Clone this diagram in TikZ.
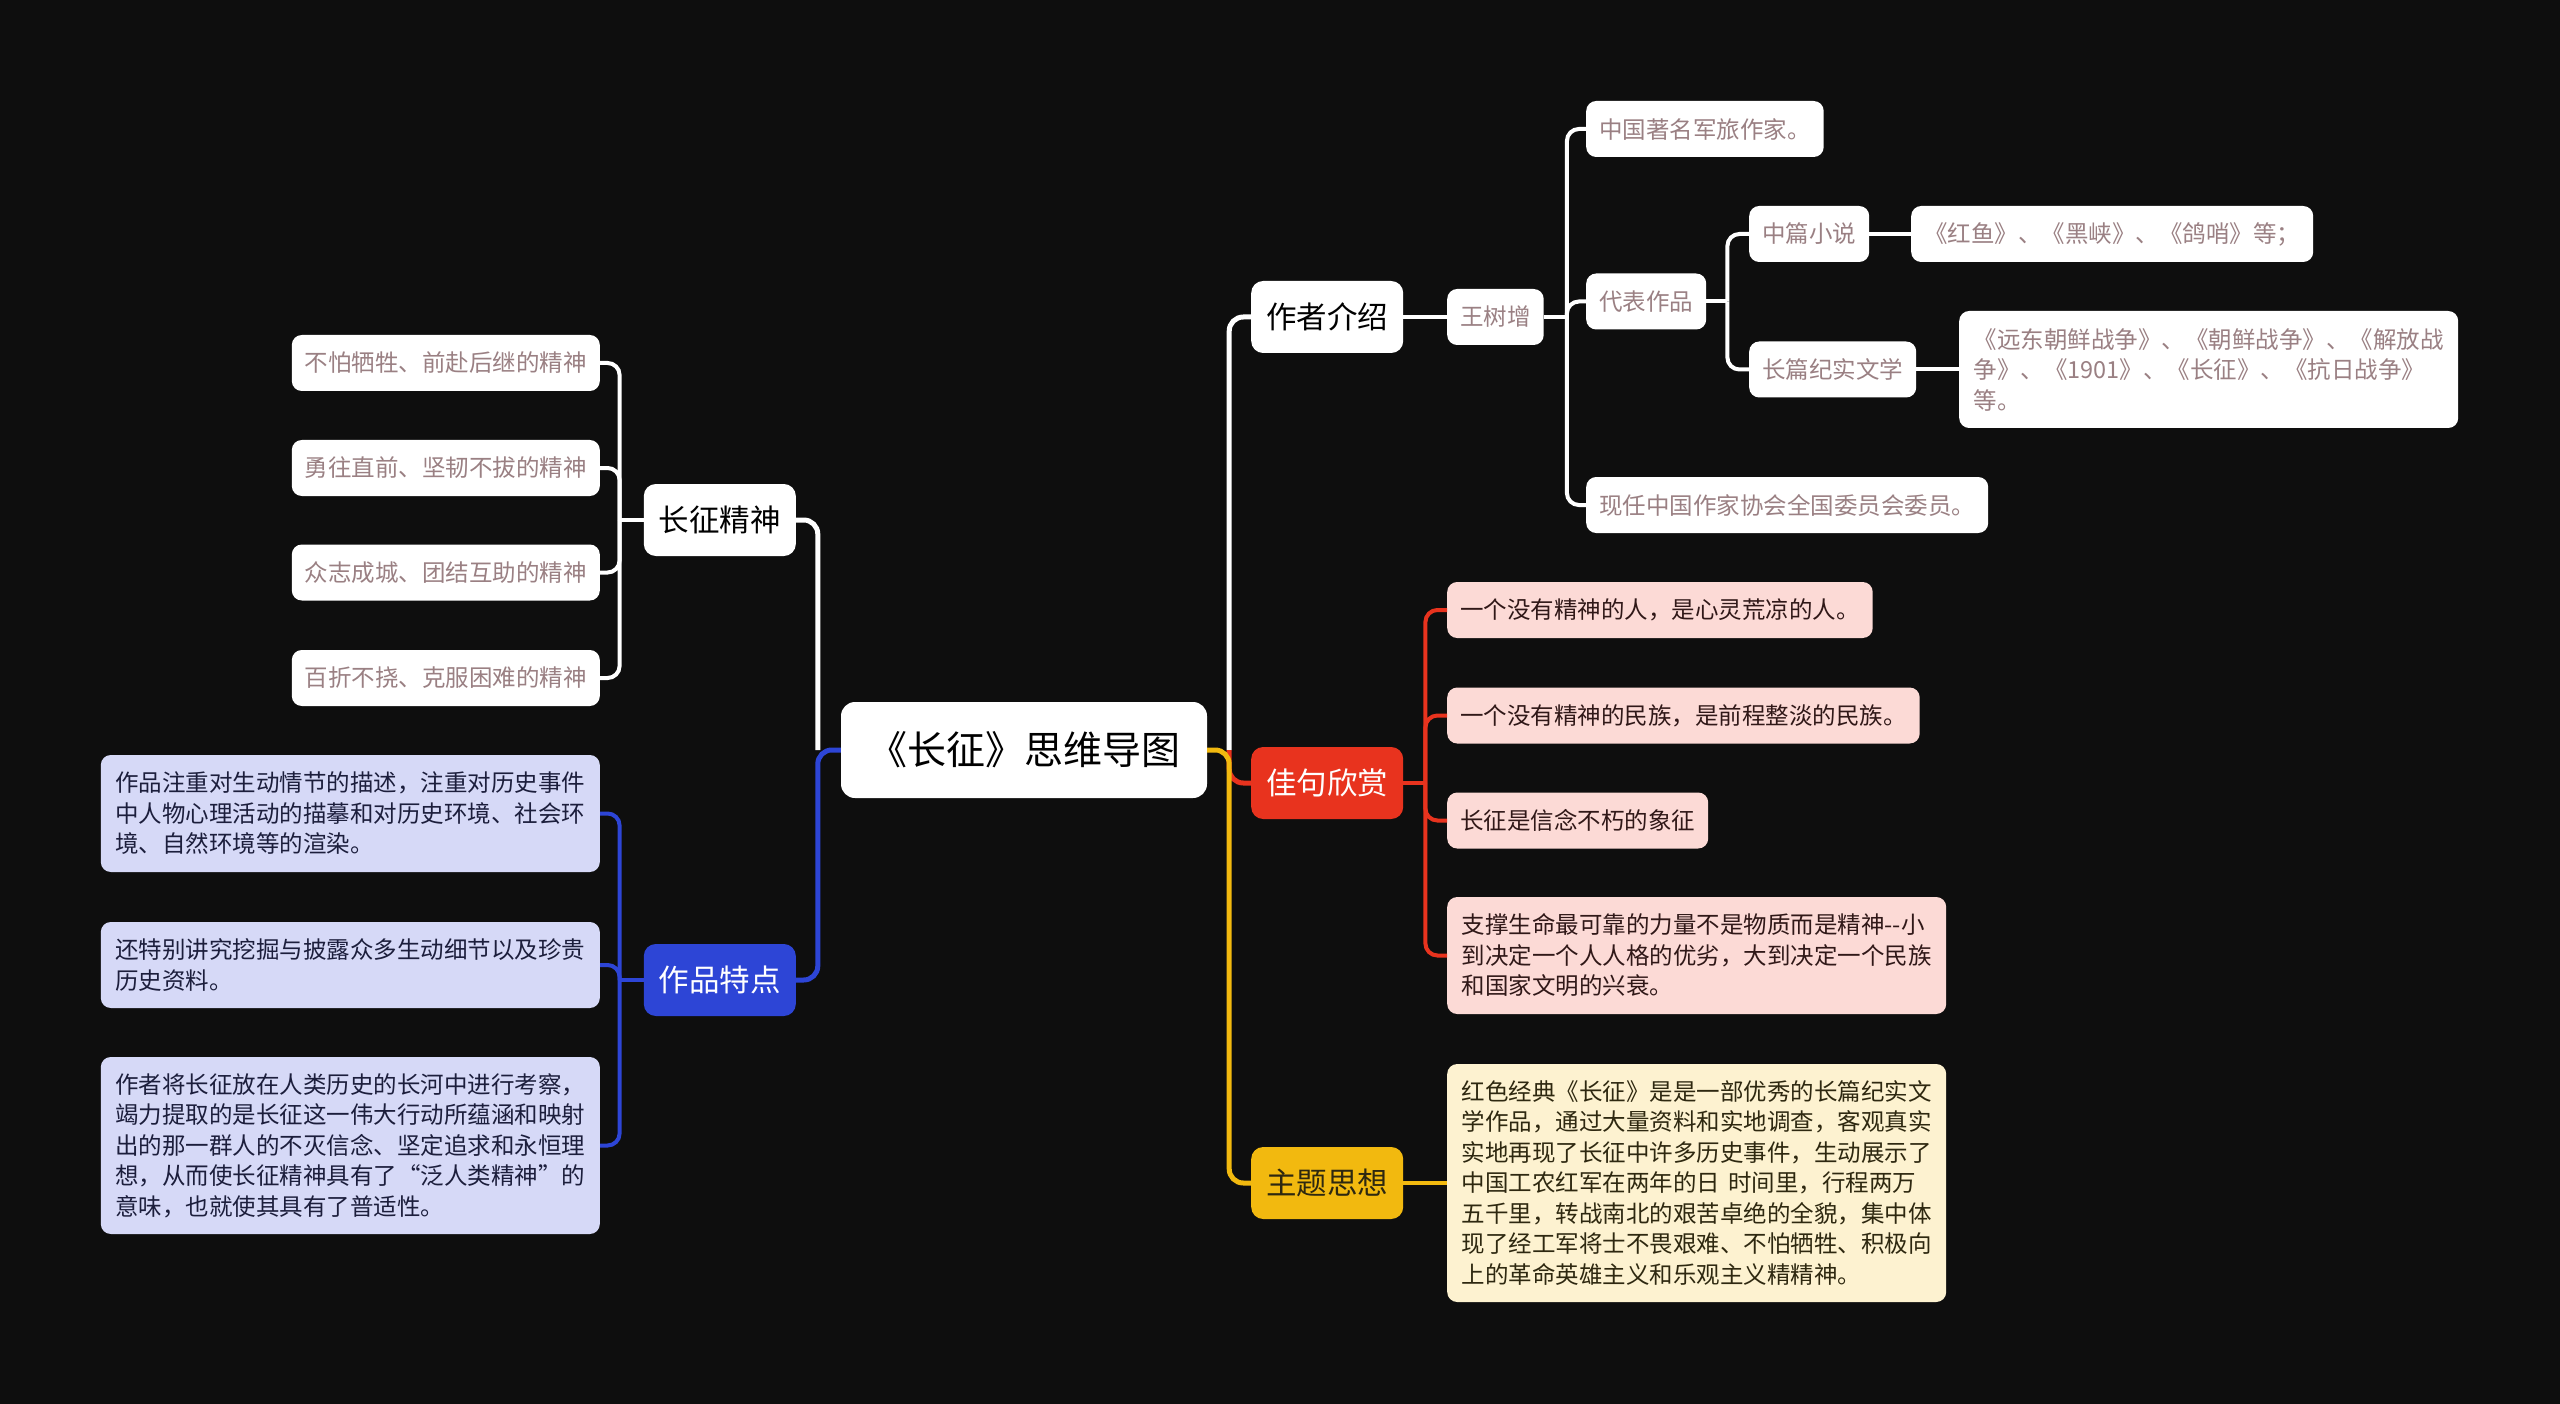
\documentclass[tikz,border=0pt]{standalone}
\usepackage{fontspec}
\setmainfont{Noto Sans CJK SC}
\usetikzlibrary{positioning}
\definecolor{bgc}{HTML}{0E0E0E}
\definecolor{leafc}{HTML}{9A8083}
\definecolor{redc}{HTML}{E8331E}
\definecolor{bluec}{HTML}{2D45D6}
\definecolor{goldc}{HTML}{F2B90F}
\definecolor{pinkc}{HTML}{FCDAD6}
\definecolor{creamc}{HTML}{FDF2D0}
\definecolor{lavc}{HTML}{D6D9F7}
\definecolor{inkred}{HTML}{301818}
\definecolor{inkblue}{HTML}{1C1E3C}
\definecolor{inkgold}{HTML}{2E2810}
\newcommand{\leaffont}{\fontsize{23.5}{30.5}\selectfont}
\newcommand{\topicfont}{\fontsize{30.5}{36}\selectfont}
\newcommand{\rootfont}{\fontsize{39}{46}\selectfont}

\begin{document}
\begin{tikzpicture}[x=1pt,y=-1pt,
  topic/.style={rounded corners=12pt, font=\topicfont, minimum width=152pt, minimum height=72pt, inner sep=0pt},
  leaf/.style={rounded corners=10pt, fill=white, text=leafc, font=\leaffont, inner xsep=13pt, inner ysep=0pt, minimum height=56pt},
  para/.style={leaf, text width=470pt, align=left, inner xsep=14.5pt},
  trunk/.style={line width=5pt, rounded corners=14pt},
  twig/.style={line width=4pt, rounded corners=12pt}]
\useasboundingbox (0,0) rectangle (2560,1404);
\fill[bgc] (0,0) rectangle (2560,1404);

% centre
\node[rounded corners=14pt, fill=white, text=black, font=\rootfont, minimum width=366pt, minimum height=96pt, inner sep=0pt] (root) at (1024,750) {《长征》思维导图};

% main topics
\node[topic, fill=white, text=black, anchor=west] (author) at (1251,317) {作者介绍};
\node[topic, fill=redc, text=white, anchor=west] (quote) at (1251,783) {佳句欣赏};
\node[topic, fill=goldc, text=inkgold, anchor=west] (theme) at (1251,1183) {主题思想};
\node[topic, fill=white, text=black, anchor=east] (spirit) at (796,520) {长征精神};
\node[topic, fill=bluec, text=white, anchor=east] (feature) at (796,980) {作品特点};

% author
\node[leaf, anchor=west] (wang) at (1447,317) {王树增};
\node[leaf, anchor=west] (famous) at (1586,129) {中国著名军旅作家。};
\node[leaf, anchor=west] (works) at (1586,301.5) {代表作品};
\node[leaf, anchor=west] (member) at (1586,505) {现任中国作家协会全国委员会委员。};
\node[leaf, anchor=west] (novella) at (1749,234) {中篇小说};
\node[leaf, anchor=west] (novlist) at (1911,234) {《红鱼》、《黑峡》、《鸽哨》等；};
\node[leaf, anchor=west] (report) at (1749,369.5) {长篇纪实文学};
\node[para, anchor=west, minimum height=117pt] (replist) at (1959,369.5) {《远东朝鲜战争》、《朝鲜战争》、《解放战\\争》、《1901》、《长征》、《抗日战争》\\等。};

% quotes
\node[leaf, fill=pinkc, text=inkred, anchor=west] (q1) at (1447,610) {一个没有精神的人，是心灵荒凉的人。};
\node[leaf, fill=pinkc, text=inkred, anchor=west] (q2) at (1447,715.5) {一个没有精神的民族，是前程整淡的民族。};
\node[leaf, fill=pinkc, text=inkred, anchor=west] (q3) at (1447,820.5) {长征是信念不朽的象征};
\node[para, fill=pinkc, text=inkred, anchor=west, minimum height=117pt] (q4) at (1447,955.5) {支撑生命最可靠的力量不是物质而是精神-{}-小\\到决定一个人人格的优劣，大到决定一个民族\\和国家文明的兴衰。};

% theme
\node[para, fill=creamc, text=inkgold, anchor=west, minimum height=238pt] (th1) at (1447,1183) {红色经典《长征》是是一部优秀的长篇纪实文\\学作品，通过大量资料和实地调查，客观真实\\实地再现了长征中许多历史事件，生动展示了\\中国工农红军在两年的日 时间里，行程两万\\五千里，转战南北的艰苦卓绝的全貌，集中体\\现了经工军将士不畏艰难、不怕牺牲、积极向\\上的革命英雄主义和乐观主义精精神。};

% spirit
\node[leaf, anchor=east] (sp1) at (600,363) {不怕牺牲、前赴后继的精神};
\node[leaf, anchor=east] (sp2) at (600,468) {勇往直前、坚韧不拔的精神};
\node[leaf, anchor=east] (sp3) at (600,572.5) {众志成城、团结互助的精神};
\node[leaf, anchor=east] (sp4) at (600,678) {百折不挠、克服困难的精神};

% features
\node[para, fill=lavc, text=inkblue, anchor=east, minimum height=117pt] (ft1) at (600,813.5) {作品注重对生动情节的描述，注重对历史事件\\中人物心理活动的描摹和对历史环境、社会环\\境、自然环境等的渲染。};
\node[para, fill=lavc, text=inkblue, anchor=east, minimum height=86pt] (ft2) at (600,965) {还特别讲究挖掘与披露众多生动细节以及珍贵\\历史资料。};
\node[para, fill=lavc, text=inkblue, anchor=east, minimum height=177pt] (ft3) at (600,1145.5) {作者将长征放在人类历史的长河中进行考察，\\竭力提取的是长征这一伟大行动所蕴涵和映射\\出的那一群人的不灭信念、坚定追求和永恒理\\想，从而使长征精神具有了“泛人类精神”的\\意味，也就使其具有了普适性。};

% junctions
\coordinate[right=22pt of root.east] (root-r);
\coordinate[left=23pt of root.west] (root-l);
\coordinate[right=23pt of wang.east] (wang-r);
\coordinate[right=21pt of works.east] (works-r);
\coordinate[right=22pt of quote.east] (quote-r);
\coordinate[left=24pt of spirit.west] (spirit-l);
\coordinate[left=24pt of feature.west] (feature-l);

% connectors
\draw[trunk, white] (root-r) |- (author.west);
\draw[trunk, redc] (root-r) |- (quote.west);
\draw[trunk, goldc] (root.east) -- (root-r) |- (theme.west);
\draw[trunk, white] (root-l) |- (spirit.east);
\draw[trunk, bluec] (root.west) -- (root-l) |- (feature.east);

\draw[twig, white] (author.east) -- (wang.west);
\draw[twig, white] (wang.east) -- (wang-r);
\foreach \c in {famous,works,member}
  \draw[twig, white] (wang-r) |- (\c.west);
\draw[twig, white] (works.east) -- (works-r);
\foreach \c in {novella,report}
  \draw[twig, white] (works-r) |- (\c.west);
\draw[twig, white] (novella.east) -- (novlist.west);
\draw[twig, white] (report.east) -- (replist.west);

\draw[twig, redc] (quote.east) -- (quote-r);
\foreach \c in {q1,q2,q3,q4}
  \draw[twig, redc] (quote-r) |- (\c.west);

\draw[twig, goldc] (theme.east) -- (th1.west);

\draw[twig, white] (spirit.west) -- (spirit-l);
\foreach \c in {sp1,sp2,sp3,sp4}
  \draw[twig, white] (spirit-l) |- (\c.east);

\draw[twig, bluec] (feature.west) -- (feature-l);
\foreach \c in {ft1,ft2,ft3}
  \draw[twig, bluec] (feature-l) |- (\c.east);
\end{tikzpicture}
\end{document}
